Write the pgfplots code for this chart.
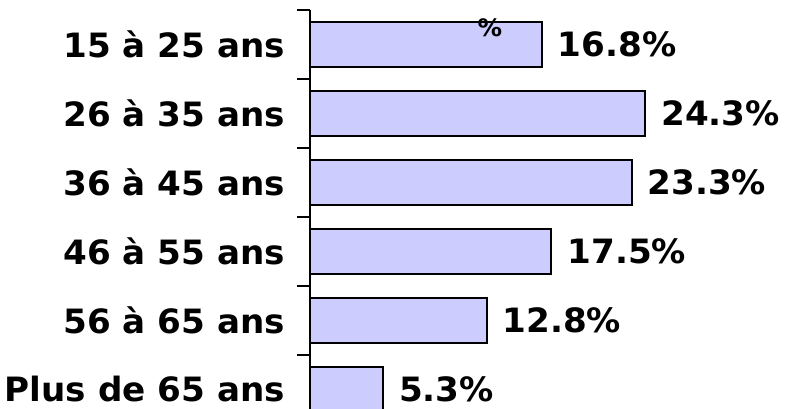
\documentclass[border=0pt]{standalone}
\usepackage{pgfplots}
\pgfplotsset{compat=1.18}
\usepackage{fontspec}
\setmainfont{DejaVu Sans}
\newfontfamily\lbl{DejaVu Sans Bold}[FakeStretch=1.02]
\definecolor{barfill}{HTML}{CCCCFF}

\begin{document}
\begin{tikzpicture}[x=1pt,y=1pt]
    \useasboundingbox (0,0) rectangle (792,409);
    \begin{axis}[
        at={(310pt,0pt)}, anchor=south west,
        scale only axis,
        width=482pt, height=399pt,
        xbar,
        xmin=0, xmax=34.93,
        ymin=-0.283, ymax=5.5,
        axis x line=none,
        axis y line*=left,
        y axis line style={line width=1.5pt, black, -},
        ytick={0,1,2,3,4,5},
        yticklabels={Plus de 65 ans, 56 à 65 ans, 46 à 55 ans, 36 à 45 ans, 26 à 35 ans, 15 à 25 ans},
        major tick length=0pt,
        minor ytick={0.5,1.5,2.5,3.5,4.5,5.5},
        minor tick length=13pt,
        tick align=outside,
        ytick style={line width=1.3pt, black},
        yticklabel style={font=\lbl\fontsize{33.5}{38}\selectfont, anchor=east, inner sep=0pt, xshift=-25pt},
        bar width=45pt,
        /pgf/number format/assume math mode=true,
        nodes near coords={\pgfmathprintnumber[fixed,precision=1,fixed zerofill]{\pgfplotspointmeta}\%},
        nodes near coords style={font=\lbl\fontsize{33.5}{38}\selectfont, anchor=west, inner sep=0pt, xshift=15pt},
    ]
        \addplot[fill=barfill, draw=black, line width=2pt] coordinates {
            (5.3,0)
            (12.8,1)
            (17.5,2)
            (23.3,3)
            (24.3,4)
            (16.8,5)
        };
        \node[inner sep=0pt, font=\lbl, scale=2.4] at (axis cs:13.04,5.245) {\%};
    \end{axis}
\end{tikzpicture}
\end{document}
